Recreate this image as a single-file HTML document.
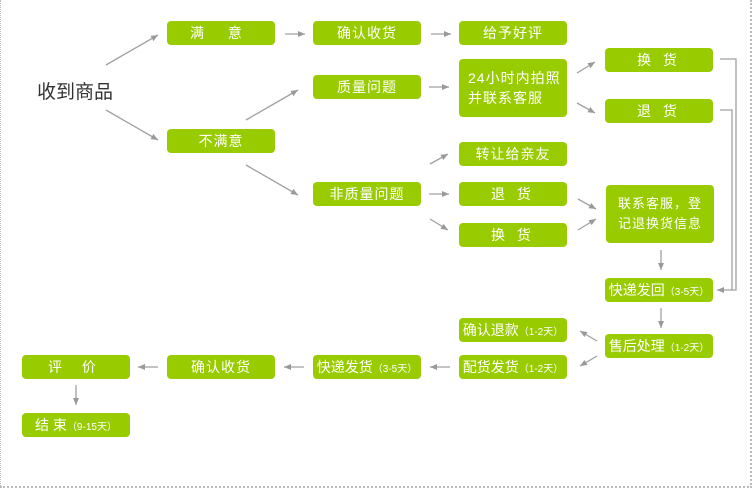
<!DOCTYPE html>
<html><head><meta charset="utf-8"><style>
body{margin:0;width:754px;height:491px;background:#fff;position:relative;overflow:hidden;font-family:"Liberation Sans","Noto Sans CJK SC",sans-serif}
.b{position:absolute;background:#99cc00;color:#fff;border-radius:4px;display:flex;align-items:center;justify-content:center;font-size:14px;letter-spacing:1px;white-space:nowrap}
.b small{font-size:10px;letter-spacing:0}
.fr{position:absolute;left:0;top:0;width:752px;height:488px;border-left:1px dotted #bbb;border-right:2px dotted #bbb;border-bottom:2px dotted #bbb;box-sizing:border-box}
svg{position:absolute;left:0;top:0}
</style></head><body>
<div class="fr"></div>
<svg width="754" height="491">
<defs><marker id="a" markerWidth="8" markerHeight="8" refX="7" refY="4" orient="auto" markerUnits="userSpaceOnUse"><path d="M0,1 L7,4 L0,7 z" fill="#999"/></marker></defs>
<g stroke="#a0a0a0" stroke-width="1.3" fill="none" marker-end="url(#a)">
<line x1="106" y1="65" x2="158" y2="35"/>
<line x1="106" y1="110" x2="158" y2="140"/>
<line x1="285" y1="34" x2="305" y2="34"/>
<line x1="431" y1="34" x2="451" y2="34"/>
<line x1="246" y1="120" x2="298" y2="90"/>
<line x1="246" y1="165" x2="298" y2="195"/>
<line x1="429" y1="87" x2="449" y2="87"/>
<line x1="577" y1="73" x2="595" y2="62"/>
<line x1="577" y1="103" x2="595" y2="113"/>
<line x1="430" y1="164" x2="448" y2="154"/>
<line x1="429" y1="194" x2="449" y2="194"/>
<line x1="430" y1="219" x2="448" y2="230"/>
<line x1="578" y1="199" x2="596" y2="209"/>
<line x1="578" y1="230" x2="596" y2="219"/>
<line x1="661" y1="250" x2="661" y2="270"/>
<line x1="661" y1="308" x2="661" y2="328"/>
<polyline points="720,59 736,59 736,290 717,290"/>
<line x1="597" y1="341" x2="580" y2="331"/>
<line x1="597" y1="356" x2="580" y2="366"/>
<line x1="450" y1="367" x2="430" y2="367"/>
<line x1="304" y1="367" x2="284" y2="367"/>
<line x1="158" y1="367" x2="138" y2="367"/>
<line x1="76" y1="385" x2="76" y2="405"/>
</g>
<polyline points="720,110 732,110 732,290" stroke="#a0a0a0" stroke-width="1.3" fill="none"/>
</svg>
<div style="position:absolute;left:37px;top:77px;font-size:19px;color:#333">收到商品</div>
<div class="b" style="left:167px;top:21px;width:108px;height:24px;letter-spacing:10px">满 意</div>
<div class="b" style="left:313px;top:21px;width:108px;height:24px">确认收货</div>
<div class="b" style="left:459px;top:21px;width:108px;height:24px">给予好评</div>
<div class="b" style="left:313px;top:75px;width:108px;height:24px">质量问题</div>
<div class="b" style="left:459px;top:59px;width:108px;height:58px;white-space:normal;text-align:left;justify-content:flex-start;padding-left:9px;box-sizing:border-box;line-height:20px">24小时内拍照<br>并联系客服</div>
<div class="b" style="left:605px;top:48px;width:108px;height:24px;letter-spacing:4px">换 货</div>
<div class="b" style="left:605px;top:99px;width:108px;height:24px;letter-spacing:4px">退 货</div>
<div class="b" style="left:167px;top:129px;width:108px;height:24px">不满意</div>
<div class="b" style="left:459px;top:142px;width:108px;height:24px">转让给亲友</div>
<div class="b" style="left:313px;top:182px;width:108px;height:24px">非质量问题</div>
<div class="b" style="left:459px;top:182px;width:108px;height:24px;letter-spacing:4px">退 货</div>
<div class="b" style="left:459px;top:223px;width:108px;height:24px;letter-spacing:4px">换 货</div>
<div class="b" style="left:606px;top:185px;width:108px;height:58px;white-space:normal;text-align:center;line-height:20px;font-size:13px">联系客服，登<br>记退换货信息</div>
<div class="b" style="left:605px;top:278px;width:108px;height:24px;letter-spacing:0">快递发回<small>（3-5天）</small></div>
<div class="b" style="left:605px;top:334px;width:108px;height:24px;letter-spacing:0">售后处理<small>（1-2天）</small></div>
<div class="b" style="left:459px;top:318px;width:108px;height:24px;letter-spacing:0">确认退款<small>（1-2天）</small></div>
<div class="b" style="left:459px;top:355px;width:108px;height:24px;letter-spacing:0">配货发货<small>（1-2天）</small></div>
<div class="b" style="left:313px;top:355px;width:108px;height:24px;letter-spacing:0">快递发货<small>（3-5天）</small></div>
<div class="b" style="left:167px;top:355px;width:108px;height:24px">确认收货</div>
<div class="b" style="left:22px;top:355px;width:108px;height:24px;letter-spacing:8px">评 价</div>
<div class="b" style="left:22px;top:413px;width:108px;height:24px;letter-spacing:0">结 束<small>（9-15天）</small></div>
</body></html>
